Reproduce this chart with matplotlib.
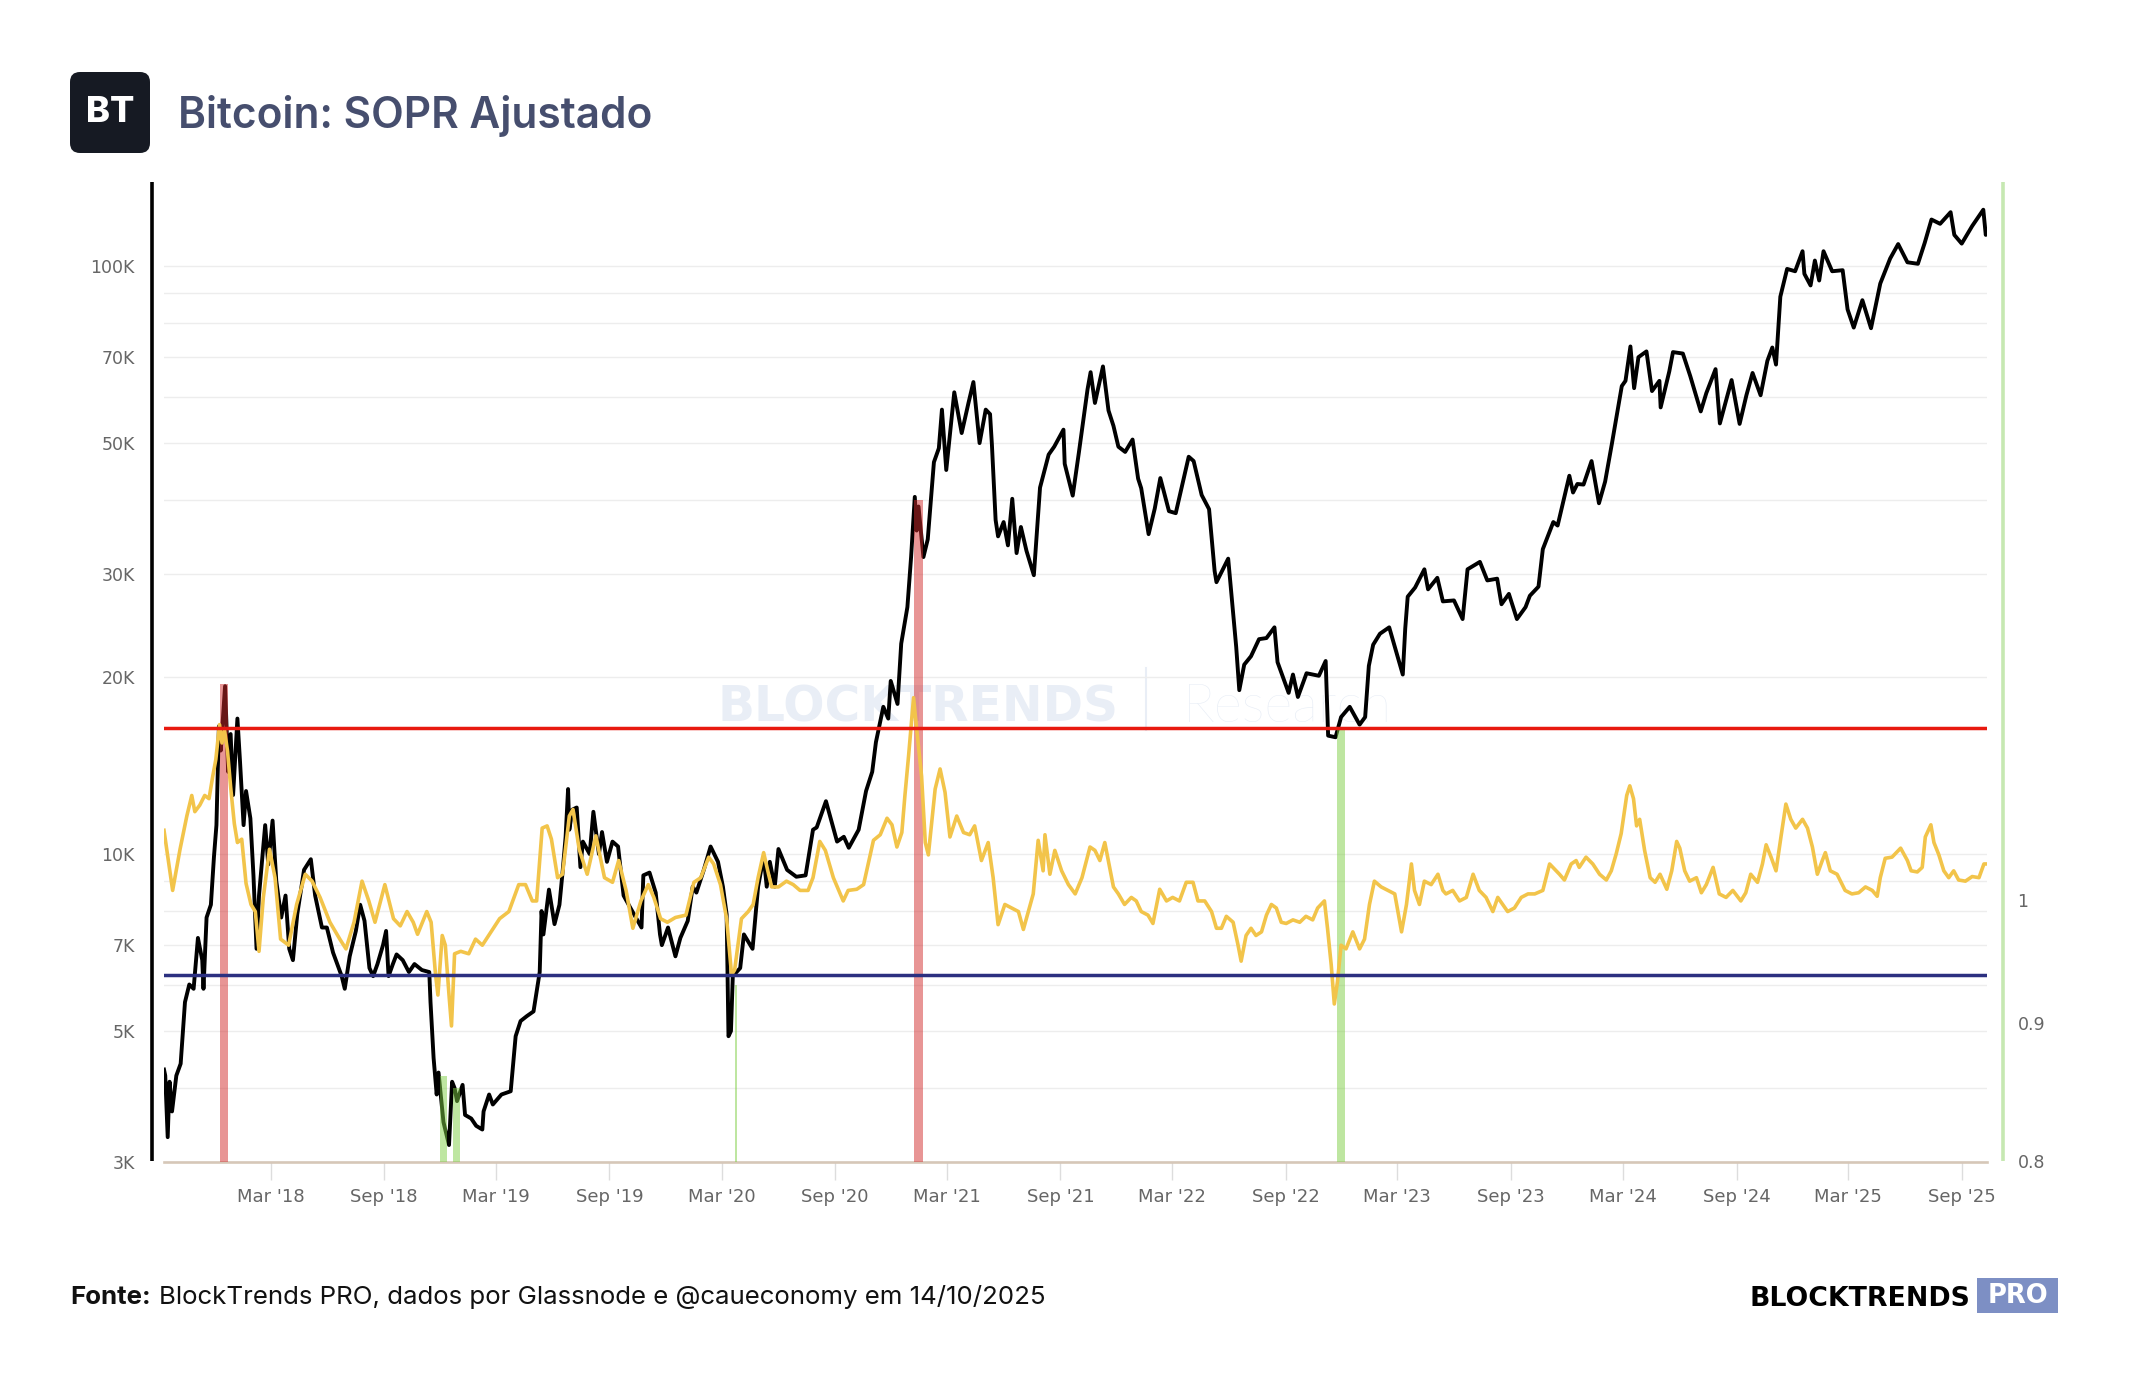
import matplotlib
matplotlib.use('Agg')
import matplotlib.pyplot as plt
import pandas as pd
from matplotlib.patches import FancyBboxPatch, Rectangle
from matplotlib.ticker import NullFormatter, NullLocator

W, H = 2144, 1400

# ---------------- data ----------------
price_dates = [
    '2017-09-09', '2017-09-11', '2017-09-15', '2017-09-18', '2017-09-22', '2017-09-29', '2017-10-06', '2017-10-13',
    '2017-10-20', '2017-10-27', '2017-11-03', '2017-11-10', '2017-11-12', '2017-11-17', '2017-11-24', '2017-11-29',
    '2017-12-03', '2017-12-07', '2017-12-10', '2017-12-17', '2017-12-22', '2017-12-26', '2017-12-30',
    '2018-01-06', '2018-01-10', '2018-01-16', '2018-01-20', '2018-01-27', '2018-02-01', '2018-02-06', '2018-02-10',
    '2018-02-20', '2018-02-25', '2018-03-04', '2018-03-10', '2018-03-18', '2018-03-25', '2018-03-31', '2018-04-06',
    '2018-04-13', '2018-04-24', '2018-05-05', '2018-05-12', '2018-05-23', '2018-05-31', '2018-06-10', '2018-06-24',
    '2018-06-29', '2018-07-07', '2018-07-17', '2018-07-24', '2018-07-31', '2018-08-08', '2018-08-14', '2018-08-21',
    '2018-08-30', '2018-09-04', '2018-09-08', '2018-09-15', '2018-09-21', '2018-10-01', '2018-10-11', '2018-10-20',
    '2018-11-01', '2018-11-13', '2018-11-15', '2018-11-20', '2018-11-25', '2018-11-28', '2018-12-06', '2018-12-15',
    '2018-12-20', '2018-12-24', '2018-12-28',
    '2019-01-06', '2019-01-10', '2019-01-20', '2019-01-28', '2019-02-07', '2019-02-09', '2019-02-18', '2019-02-24',
    '2019-03-10', '2019-03-25', '2019-04-02', '2019-04-10', '2019-04-20', '2019-05-01', '2019-05-11', '2019-05-14',
    '2019-05-17', '2019-05-26', '2019-06-04', '2019-06-12', '2019-06-17', '2019-06-22', '2019-06-26', '2019-06-28',
    '2019-07-03', '2019-07-10', '2019-07-16', '2019-07-20', '2019-07-31', '2019-08-06', '2019-08-15', '2019-08-20',
    '2019-08-28', '2019-09-06', '2019-09-15', '2019-09-24', '2019-10-05', '2019-10-23', '2019-10-26', '2019-11-05',
    '2019-11-15', '2019-11-22', '2019-11-25', '2019-12-05', '2019-12-17', '2019-12-25',
    '2020-01-06', '2020-01-14', '2020-01-20', '2020-02-01', '2020-02-12', '2020-02-24', '2020-03-03', '2020-03-09',
    '2020-03-12', '2020-03-16', '2020-03-19', '2020-03-31', '2020-04-06', '2020-04-20', '2020-04-29', '2020-05-08',
    '2020-05-13', '2020-05-18', '2020-05-26', '2020-06-01', '2020-06-15', '2020-06-30', '2020-07-15', '2020-07-27',
    '2020-08-02', '2020-08-17', '2020-09-04', '2020-09-15', '2020-09-23', '2020-10-09', '2020-10-21', '2020-10-31',
    '2020-11-06', '2020-11-18', '2020-11-26', '2020-11-30', '2020-12-11', '2020-12-17', '2020-12-27',
    '2021-01-02', '2021-01-08', '2021-01-11', '2021-01-14', '2021-01-22', '2021-01-29', '2021-02-08', '2021-02-16',
    '2021-02-21', '2021-02-28', '2021-03-13', '2021-03-25', '2021-04-05', '2021-04-13', '2021-04-23', '2021-05-03',
    '2021-05-10', '2021-05-13', '2021-05-19', '2021-05-23', '2021-06-01', '2021-06-08', '2021-06-15', '2021-06-22',
    '2021-06-29', '2021-07-08', '2021-07-20', '2021-07-30', '2021-08-13', '2021-08-22', '2021-09-06', '2021-09-08',
    '2021-09-21', '2021-10-01', '2021-10-15', '2021-10-20', '2021-10-27', '2021-11-09', '2021-11-18', '2021-11-26',
    '2021-12-04', '2021-12-15', '2021-12-27',
    '2022-01-05', '2022-01-10', '2022-01-22', '2022-02-01', '2022-02-10', '2022-02-24', '2022-03-07', '2022-03-28',
    '2022-04-05', '2022-04-18', '2022-04-30', '2022-05-09', '2022-05-12', '2022-05-31', '2022-06-13', '2022-06-18',
    '2022-06-26', '2022-07-07', '2022-07-20', '2022-08-01', '2022-08-14', '2022-08-19', '2022-09-06', '2022-09-13',
    '2022-09-21', '2022-10-05', '2022-10-25', '2022-11-05', '2022-11-09', '2022-11-21', '2022-11-30', '2022-12-14',
    '2022-12-30',
    '2023-01-08', '2023-01-14', '2023-01-21', '2023-02-01', '2023-02-16', '2023-03-09', '2023-03-10', '2023-03-14',
    '2023-03-18', '2023-03-30', '2023-04-14', '2023-04-20', '2023-05-05', '2023-05-14', '2023-06-01', '2023-06-15',
    '2023-06-23', '2023-07-13', '2023-07-25', '2023-08-10', '2023-08-17', '2023-08-29', '2023-09-11', '2023-09-25',
    '2023-10-02', '2023-10-16', '2023-10-23', '2023-11-09', '2023-11-16', '2023-12-05', '2023-12-11', '2023-12-18',
    '2023-12-28',
    '2024-01-10', '2024-01-22', '2024-02-01', '2024-02-12', '2024-02-28', '2024-03-05', '2024-03-13', '2024-03-19',
    '2024-03-26', '2024-04-08', '2024-04-17', '2024-04-29', '2024-05-01', '2024-05-15', '2024-05-21', '2024-06-06',
    '2024-06-18', '2024-07-05', '2024-07-14', '2024-07-29', '2024-08-05', '2024-08-24', '2024-09-06', '2024-09-17',
    '2024-09-27', '2024-10-10', '2024-10-21', '2024-10-29', '2024-11-04', '2024-11-11', '2024-11-22', '2024-12-05',
    '2024-12-17', '2024-12-20', '2024-12-30',
    '2025-01-06', '2025-01-13', '2025-01-20', '2025-02-03', '2025-02-20', '2025-02-28', '2025-03-10', '2025-03-24',
    '2025-04-07', '2025-04-22', '2025-05-08', '2025-05-21', '2025-06-05', '2025-06-22', '2025-07-03', '2025-07-14',
    '2025-07-28', '2025-08-14', '2025-08-20', '2025-09-01', '2025-09-18', '2025-10-06', '2025-10-10', '2025-10-12',
]
price_values = [
    4300, 4200, 3300, 4100, 3650, 4200, 4400, 5600,
    6000, 5900, 7200, 6600, 5900, 7800, 8200, 9900,
    11200, 16500, 15000, 19300, 13800, 16000, 12600,
    17000, 14500, 11200, 12800, 11500, 9200, 6900, 8500,
    11200, 9600, 11400, 9000, 7800, 8500, 6900, 6600,
    7900, 9400, 9800, 8500, 7500, 7500, 6800, 6200,
    5900, 6700, 7400, 8200, 7700, 6400, 6200, 6500,
    7000, 7400, 6200, 6500, 6750, 6600, 6300, 6500,
    6350, 6300, 5600, 4500, 3900, 4250, 3500, 3200,
    4100, 4000, 3800,
    4050, 3600, 3550, 3450, 3400, 3650, 3900, 3750,
    3900, 3950, 4900, 5200, 5300, 5400, 6300, 8000,
    7300, 8700, 7600, 8200, 9300, 10700, 12900, 11000,
    11900, 12000, 9500, 10500, 10000, 11800, 10000, 10900,
    9700, 10500, 10300, 8500, 8100, 7500, 9200, 9300,
    8600, 7300, 7000, 7500, 6700, 7200,
    7700, 8800, 8600, 9400, 10300, 9700, 8800, 7900,
    4900, 5000, 6200, 6400, 7300, 6900, 8800, 9900,
    8800, 9700, 8800, 10200, 9400, 9150, 9200, 11000,
    11100, 12300, 10500, 10700, 10250, 11000, 12800, 13800,
    15500, 17800, 17000, 19700, 18000, 22800, 26300,
    32000, 40500, 35500, 39000, 32000, 34300, 46400, 49000,
    57000, 45000, 61000, 52000, 58500, 63500, 50000, 57000,
    56000, 49700, 37000, 34700, 36700, 33500, 40200, 32500,
    36000, 32800, 29800, 42000, 47800, 49300, 52700, 46100,
    40700, 48200, 61700, 66000, 58500, 67500, 56800, 53500,
    49300, 48300, 50700,
    43500, 41900, 35000, 38700, 43600, 38300, 38000, 47400,
    46600, 40800, 38600, 30300, 29000, 31800, 22500, 19000,
    21000, 21700, 23200, 23300, 24300, 21200, 18800, 20200,
    18500, 20300, 20100, 21300, 15900, 15800, 17100, 17800,
    16600,
    17100, 20900, 22700, 23700, 24300, 20400, 20200, 24200,
    27400, 28400, 30500, 28200, 29500, 26900, 27000, 25100,
    30500, 31400, 29200, 29400, 26600, 27700, 25100, 26300,
    27500, 28500, 33000, 36700, 36200, 44000, 41200, 42600,
    42500,
    46600, 39500, 43000, 49900, 62500, 63800, 73000, 62000,
    70000, 71600, 61300, 63800, 57500, 66200, 71400, 71000,
    65000, 56600, 60800, 66800, 54000, 64000, 53900, 60300,
    65800, 60300, 69000, 72700, 68000, 88700, 98900, 98000,
    106000, 97000, 92700,
    102200, 94500, 106000, 98000, 98400, 84400, 78600, 87500,
    78400, 93400, 103000, 109000, 101500, 100900, 109500, 120000,
    118000, 123500, 113000, 109200, 117000, 124700, 113000, 115200,
]

sopr_dates = [
    '2017-09-09', '2017-09-23', '2017-10-05', '2017-10-16', '2017-10-24', '2017-10-29', '2017-11-06', '2017-11-14',
    '2017-11-21', '2017-11-27', '2017-12-02', '2017-12-08', '2017-12-12', '2017-12-16', '2017-12-21', '2017-12-26',
    '2018-01-01', '2018-01-06', '2018-01-13', '2018-01-20', '2018-01-28', '2018-02-04', '2018-02-10', '2018-02-17',
    '2018-02-27', '2018-03-08', '2018-03-17', '2018-03-30', '2018-04-12', '2018-04-26', '2018-05-07', '2018-05-20',
    '2018-06-05', '2018-06-21', '2018-07-01', '2018-07-14', '2018-07-27', '2018-08-07', '2018-08-17', '2018-09-02',
    '2018-09-16', '2018-09-27', '2018-10-08', '2018-10-18', '2018-10-25', '2018-11-09', '2018-11-16', '2018-11-23',
    '2018-11-27', '2018-12-04', '2018-12-09', '2018-12-15', '2018-12-19', '2018-12-24',
    '2019-01-03', '2019-01-16', '2019-01-27', '2019-02-07', '2019-02-21', '2019-03-07', '2019-03-22', '2019-04-07',
    '2019-04-18', '2019-04-29', '2019-05-06', '2019-05-15', '2019-05-23', '2019-05-30', '2019-06-09', '2019-06-17',
    '2019-06-28', '2019-07-04', '2019-07-14', '2019-07-27', '2019-08-10', '2019-08-24', '2019-09-06', '2019-09-16',
    '2019-09-28', '2019-10-09', '2019-10-22', '2019-11-03', '2019-11-12', '2019-11-23', '2019-12-04', '2019-12-17',
    '2020-01-03', '2020-01-16', '2020-01-27', '2020-02-09', '2020-02-17', '2020-02-28', '2020-03-09', '2020-03-17',
    '2020-03-22', '2020-04-02', '2020-04-13', '2020-04-21', '2020-04-29', '2020-05-08', '2020-05-16', '2020-05-21',
    '2020-06-01', '2020-06-14', '2020-06-25', '2020-07-06', '2020-07-19', '2020-07-27', '2020-08-07', '2020-08-16',
    '2020-08-29', '2020-09-14', '2020-09-22', '2020-10-06', '2020-10-17', '2020-11-02', '2020-11-13', '2020-11-24',
    '2020-12-02', '2020-12-10', '2020-12-18', '2020-12-23', '2020-12-29',
    '2021-01-06', '2021-01-11', '2021-01-19', '2021-01-25', '2021-01-30', '2021-02-10', '2021-02-18', '2021-02-26',
    '2021-03-06', '2021-03-17', '2021-03-28', '2021-04-07', '2021-04-15', '2021-04-26', '2021-05-07', '2021-05-15',
    '2021-05-23', '2021-06-03', '2021-06-14', '2021-06-25', '2021-07-03', '2021-07-11', '2021-07-19', '2021-07-27',
    '2021-08-04', '2021-08-07', '2021-08-15', '2021-08-23', '2021-09-03', '2021-09-14', '2021-09-25', '2021-10-06',
    '2021-10-19', '2021-10-27', '2021-11-04', '2021-11-12', '2021-11-26', '2021-12-04', '2021-12-14', '2021-12-25',
    '2022-01-02', '2022-01-10', '2022-01-21', '2022-01-29', '2022-02-09', '2022-02-20', '2022-03-02', '2022-03-13',
    '2022-03-24', '2022-04-04', '2022-04-12', '2022-04-23', '2022-05-04', '2022-05-12', '2022-05-20', '2022-05-28',
    '2022-06-08', '2022-06-16', '2022-06-21', '2022-06-29', '2022-07-07', '2022-07-15', '2022-07-24', '2022-08-01',
    '2022-08-09', '2022-08-17', '2022-08-25', '2022-09-02', '2022-09-13', '2022-09-24', '2022-10-04', '2022-10-15',
    '2022-10-23', '2022-11-03', '2022-11-08', '2022-11-14', '2022-11-19', '2022-11-24', '2022-11-30', '2022-12-08',
    '2022-12-19', '2022-12-30',
    '2023-01-07', '2023-01-15', '2023-01-23', '2023-02-03', '2023-02-14', '2023-02-25', '2023-03-08', '2023-03-16',
    '2023-03-24', '2023-03-29', '2023-04-06', '2023-04-14', '2023-04-25', '2023-05-06', '2023-05-14', '2023-05-19',
    '2023-05-30', '2023-06-10', '2023-06-21', '2023-07-02', '2023-07-12', '2023-07-23', '2023-08-03', '2023-08-11',
    '2023-08-19', '2023-08-27', '2023-09-07', '2023-09-18', '2023-09-29', '2023-10-10', '2023-10-23', '2023-11-03',
    '2023-11-19', '2023-11-27', '2023-12-08', '2023-12-16', '2023-12-21',
    '2024-01-01', '2024-01-12', '2024-01-23', '2024-02-03', '2024-02-11', '2024-02-19', '2024-02-27', '2024-03-07',
    '2024-03-12', '2024-03-18', '2024-03-23', '2024-03-28', '2024-04-05', '2024-04-14', '2024-04-22', '2024-04-30',
    '2024-05-11', '2024-05-19', '2024-05-27', '2024-06-01', '2024-06-09', '2024-06-17', '2024-06-28', '2024-07-06',
    '2024-07-14', '2024-07-25', '2024-08-04', '2024-08-15', '2024-08-26', '2024-09-08', '2024-09-16', '2024-09-24',
    '2024-10-05', '2024-10-13', '2024-10-19', '2024-10-27', '2024-11-04', '2024-11-12', '2024-11-20', '2024-11-28',
    '2024-12-06', '2024-12-17', '2024-12-25',
    '2025-01-02', '2025-01-10', '2025-01-18', '2025-01-23', '2025-01-31', '2025-02-11', '2025-02-24', '2025-03-07',
    '2025-03-18', '2025-03-29', '2025-04-09', '2025-04-17', '2025-04-22', '2025-04-30', '2025-05-11', '2025-05-25',
    '2025-06-05', '2025-06-11', '2025-06-21', '2025-06-29', '2025-07-04', '2025-07-13', '2025-07-18', '2025-07-26',
    '2025-08-03', '2025-08-11', '2025-08-19', '2025-08-27', '2025-09-07', '2025-09-18', '2025-09-29', '2025-10-07',
    '2025-10-12',
]
sopr_values = [
    1.061, 1.008, 1.044, 1.074, 1.093, 1.078, 1.084, 1.093,
    1.090, 1.111, 1.127, 1.161, 1.143, 1.156, 1.135, 1.101,
    1.067, 1.050, 1.053, 1.014, 0.996, 0.990, 0.957, 1.002,
    1.044, 1.019, 0.967, 0.962, 0.996, 1.022, 1.016, 1.002,
    0.981, 0.967, 0.959, 0.981, 1.016, 0.999, 0.981, 1.013,
    0.984, 0.978, 0.990, 0.981, 0.971, 0.990, 0.981, 0.939,
    0.922, 0.970, 0.962, 0.922, 0.898, 0.955,
    0.957, 0.955, 0.967, 0.962, 0.973, 0.984, 0.990, 1.013,
    1.013, 0.999, 0.999, 1.063, 1.065, 1.053, 1.019, 1.022,
    1.074, 1.080, 1.044, 1.022, 1.056, 1.019, 1.015, 1.034,
    1.008, 0.976, 0.999, 1.013, 1.002, 0.984, 0.981, 0.985,
    0.987, 1.015, 1.019, 1.037, 1.031, 1.013, 0.984, 0.938,
    0.942, 0.984, 0.990, 0.996, 1.019, 1.041, 1.022, 1.011,
    1.011, 1.016, 1.013, 1.008, 1.008, 1.019, 1.051, 1.043,
    1.019, 0.999, 1.008, 1.009, 1.013, 1.052, 1.057, 1.072,
    1.066, 1.046, 1.059, 1.093, 1.131,
    1.188, 1.157, 1.111, 1.050, 1.039, 1.099, 1.118, 1.096,
    1.055, 1.074, 1.059, 1.057, 1.065, 1.034, 1.050, 1.019,
    0.979, 0.996, 0.993, 0.990, 0.975, 0.990, 1.005, 1.052,
    1.025, 1.057, 1.022, 1.043, 1.025, 1.013, 1.005, 1.019,
    1.046, 1.043, 1.034, 1.050, 1.011, 1.005, 0.996, 1.002,
    0.999, 0.990, 0.987, 0.980, 1.009, 0.999, 1.002, 0.999,
    1.015, 1.015, 0.999, 0.999, 0.990, 0.976, 0.976, 0.986,
    0.981, 0.962, 0.949, 0.970, 0.976, 0.970, 0.973, 0.987,
    0.996, 0.993, 0.981, 0.980, 0.983, 0.981, 0.986, 0.983,
    0.993, 0.999, 0.976, 0.946, 0.915, 0.932, 0.962, 0.959,
    0.973, 0.959,
    0.967, 0.996, 1.016, 1.011, 1.008, 1.005, 0.973, 0.996,
    1.031, 1.008, 0.996, 1.016, 1.013, 1.022, 1.008, 1.005,
    1.008, 0.999, 1.002, 1.022, 1.008, 1.002, 0.990, 1.002,
    0.996, 0.990, 0.993, 1.002, 1.005, 1.005, 1.008, 1.031,
    1.022, 1.017, 1.031, 1.034, 1.028,
    1.037, 1.031, 1.022, 1.017, 1.025, 1.040, 1.058, 1.093,
    1.102, 1.090, 1.065, 1.071, 1.043, 1.019, 1.015, 1.022,
    1.009, 1.025, 1.051, 1.045, 1.025, 1.016, 1.019, 1.006,
    1.013, 1.028, 1.005, 1.002, 1.008, 0.999, 1.006, 1.022,
    1.015, 1.031, 1.048, 1.037, 1.025, 1.055, 1.085, 1.071,
    1.063, 1.071, 1.063,
    1.046, 1.022, 1.034, 1.041, 1.025, 1.022, 1.008, 1.005,
    1.006, 1.011, 1.008, 1.003, 1.019, 1.036, 1.037, 1.045,
    1.034, 1.025, 1.024, 1.028, 1.055, 1.066, 1.050, 1.039,
    1.025, 1.019, 1.025, 1.017, 1.016, 1.020, 1.019, 1.031,
    1.031,
]

# SOPR thresholds (horizontal lines)
sopr_high = 1.158
sopr_low = 0.938

# highlighted periods, filled under the price
band_start = ['2017-12-08', '2018-12-01', '2018-12-21', '2020-03-23', '2021-01-07', '2022-11-24']
band_end = ['2017-12-22', '2018-12-11', '2019-01-01', '2020-03-26', '2021-01-22', '2022-12-07']
band_top = [19500, 4200, 4000, 6000, 40000, 16300]
band_kind = ['high', 'low', 'low', 'low', 'high', 'low']

price_ticks = [3000, 5000, 7000, 10000, 20000, 30000, 50000, 70000, 100000]
price_tick_labels = ['3K', '5K', '7K', '10K', '20K', '30K', '50K', '70K', '100K']
price_grid = [4000, 5000, 6000, 7000, 8000, 9000, 10000, 20000, 30000, 40000, 50000,
              60000, 70000, 80000, 90000, 100000]
sopr_ticks = [0.8, 0.9, 1.0]
sopr_tick_labels = ['0.8', '0.9', '1']
x_ticks = ['2018-03-01', '2018-09-01', '2019-03-01', '2019-09-01', '2020-03-01', '2020-09-01',
           '2021-03-01', '2021-09-01', '2022-03-01', '2022-09-01', '2023-03-01', '2023-09-01',
           '2024-03-01', '2024-09-01', '2025-03-01', '2025-09-01']
x_tick_labels = ["Mar '18", "Sep '18", "Mar '19", "Sep '19", "Mar '20", "Sep '20", "Mar '21", "Sep '21",
                 "Mar '22", "Sep '22", "Mar '23", "Sep '23", "Mar '24", "Sep '24", "Mar '25", "Sep '25"]

# ---------------- figure ----------------
fig = plt.figure(figsize=(W / 100, H / 100), dpi=100)
fig.patch.set_facecolor('white')

# overlay in pixel coords for header / footer / watermark
ov = fig.add_axes([0, 0, 1, 1])
ov.set_xlim(0, W)
ov.set_ylim(H, 0)
ov.axis('off')
ov.set_zorder(-1)

left, right, top, bottom = 164, 1987, 182, 1161.5
ax = fig.add_axes([left / W, 1 - bottom / H, (right - left) / W, (bottom - top) / H])
ax.patch.set_visible(False)

ax.plot(pd.to_datetime(price_dates), price_values, color='black', lw=2.8, zorder=3,
        solid_joinstyle='round')

for s, e, t, k in zip(band_start, band_end, band_top, band_kind):
    col = '#d22c2c' if k == 'high' else '#7fcf45'
    ax.fill_between(pd.to_datetime([s, e]), 3000, [t, t], color=col, alpha=0.5, lw=0, zorder=4)

ax.set_yscale('log')
ax.set_ylim(3000, 139000)
ax.set_xlim(pd.Timestamp('2017-09-09'), pd.Timestamp('2025-10-12'))
ax.set_yticks(price_ticks)
ax.set_yticklabels(price_tick_labels)
ax.set_yticks(price_grid, minor=True)
ax.yaxis.set_minor_formatter(NullFormatter())
ax.yaxis.grid(True, which='both', color='#ededed', lw=1.0)
ax.set_axisbelow(True)
ax.set_xticks(pd.to_datetime(x_ticks))
ax.set_xticklabels(x_tick_labels)
ax.tick_params(axis='x', length=13, width=1, color='#dddddd', pad=6, labelsize=13, labelcolor='#666666')
ax.tick_params(axis='y', which='both', length=0, pad=21, labelsize=12.5, labelcolor='#666666')
for sp in ['left', 'right', 'top']:
    ax.spines[sp].set_visible(False)
ax.spines['bottom'].set_color('#d6c7b8')
ax.spines['bottom'].set_linewidth(1.9)

ax2 = ax.twinx()
ax2.plot(pd.to_datetime(sopr_dates), sopr_values, color='#f2c44a', lw=2.6, zorder=2,
         solid_joinstyle='round')
ax2.axhline(sopr_high, color='#e8190f', lw=2.5, zorder=3)
ax2.axhline(sopr_low, color='#2c3080', lw=2.5, zorder=3)
ax2.set_yscale('log')
ax2.set_ylim(0.8, 1.844)
ax2.set_yticks(sopr_ticks)
ax2.set_yticklabels(sopr_tick_labels)
ax2.yaxis.set_minor_locator(NullLocator())
ax2.tick_params(axis='y', which='both', length=0, pad=22, labelsize=12.5, labelcolor='#666666')
for sp in ax2.spines.values():
    sp.set_visible(False)

# axis lines drawn outside the plot area
ov.plot([152, 152], [182, 1161], color='black', lw=2.6, solid_capstyle='butt')
ov.plot([2003, 2003], [182, 1161], color='#c6e8b2', lw=2.6, solid_capstyle='butt')

# watermark
ov.text(918, 722, 'BLOCKTRENDS', ha='center', va='baseline', fontsize=35, fontweight='heavy',
        color='#e9eef6', family='DejaVu Sans')
ov.plot([1146, 1146], [668, 730], color='#e9eef6', lw=1.5)
ov.text(1183, 722, 'Research', ha='left', va='baseline', fontsize=39, fontweight='light',
        color='#e6ecf5', family='Lato')

# header
ov.add_patch(FancyBboxPatch((70, 72), 80, 81, boxstyle='round,pad=0,rounding_size=10',
                            facecolor='#161a23', edgecolor='none'))
ov.text(110, 113, 'BT', ha='center', va='center', color='white', fontsize=26, fontweight='heavy',
        family='Inter')
ov.text(178, 128, 'Bitcoin: SOPR Ajustado', ha='left', va='baseline', fontsize=30.5,
        fontweight='semibold', color='#464e6e', family='Inter')

# footer
t1 = ov.text(70, 1304, 'Fonte:', ha='left', va='baseline', fontsize=18.6, fontweight='bold',
             color='#111111', family='Inter')
fig.canvas.draw()
bb = t1.get_window_extent(fig.canvas.get_renderer())
x_end = ov.transData.inverted().transform((bb.x1, bb.y0))[0]
ov.text(x_end + 8, 1304, 'BlockTrends PRO, dados por Glassnode e @caueconomy em 14/10/2025',
        ha='left', va='baseline', fontsize=18.6, color='#111111', family='Inter')

ov.text(1750, 1306, 'BLOCKTRENDS', ha='left', va='baseline', fontsize=19.3, fontweight='heavy',
        color='black', family='DejaVu Sans')
ov.add_patch(Rectangle((1977, 1278), 81, 35, facecolor='#7d8fc4', edgecolor='none'))
ov.text(2017.5, 1296, 'PRO', ha='center', va='center', fontsize=18.5, fontweight='bold',
        color='white', family='DejaVu Sans')

fig.savefig('out.png', dpi=100, facecolor='white')
